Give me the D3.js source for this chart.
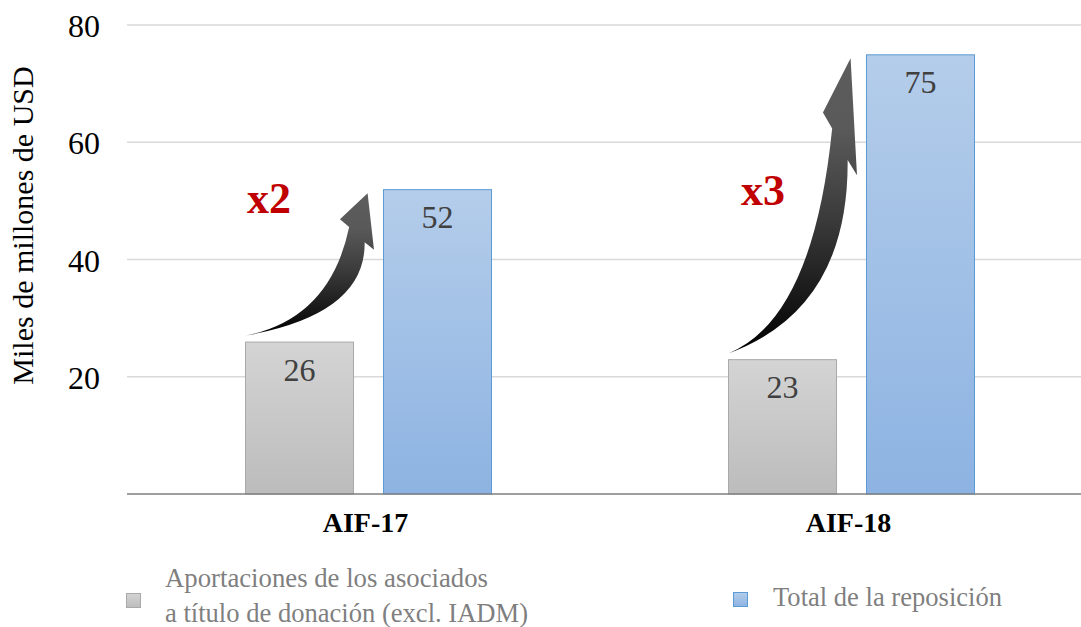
<!DOCTYPE html>
<html>
<head>
<meta charset="utf-8">
<script src="https://cdn.jsdelivr.net/npm/d3@7"></script>
<style>
  html, body { margin: 0; padding: 0; background: #fff; }
  svg { display: block; font-family: "Liberation Serif", "Times New Roman", serif; }
</style>
</head>
<body>
<svg id="chart" width="1081" height="627"></svg>
<script>
// ---- data ----
const categories = ["AIF-17", "AIF-18"];
const seriesNames = ["Aportaciones de los asociados a título de donación (excl. IADM)", "Total de la reposición"];
const donorContributions = [26, 23];
const totalReplenishment = [52, 75];
const multiplierLabels = ["x2", "x3"];
const yTicks = [20, 40, 60, 80];
const yTitle = "Miles de millones de USD";
const legendLines = [["Aportaciones de los asociados", "a título de donación (excl. IADM)"], ["Total de la reposición"]];

const svg = d3.select("#chart");
const W = 1081, H = 627;

const x0 = d3.scaleBand().domain(categories).range([127, 1093]).paddingInner(0).paddingOuter(0);
const x1 = d3.scaleBand().domain([0, 1]).range([118, 365]).paddingInner(0.21).paddingOuter(0);
const y = d3.scaleLinear().domain([0, 80]).range([494, 25]);

const defs = svg.append("defs");
function vGrad(id, top, bottom) {
  const g = defs.append("linearGradient").attr("id", id).attr("x1", 0).attr("y1", 0).attr("x2", 0).attr("y2", 1);
  g.append("stop").attr("offset", "0%").attr("stop-color", top);
  g.append("stop").attr("offset", "100%").attr("stop-color", bottom);
}
vGrad("gGray", "#d4d4d4", "#bcbcbc");
vGrad("gBlue", "#b4cdea", "#8db3e2");
const ag = defs.append("linearGradient").attr("id", "gArrow").attr("x1", 0).attr("y1", 1).attr("x2", 0).attr("y2", 0);
ag.append("stop").attr("offset", "0%").attr("stop-color", "#000");
ag.append("stop").attr("offset", "45%").attr("stop-color", "#3a3a3a");
ag.append("stop").attr("offset", "75%").attr("stop-color", "#595959");
ag.append("stop").attr("offset", "100%").attr("stop-color", "#5d5d5d");

// gridlines
svg.append("g").selectAll("line").data(yTicks).join("line")
  .attr("x1", 127).attr("x2", W)
  .attr("y1", d => y(d)).attr("y2", d => y(d))
  .attr("stroke", "#d9d9d9").attr("stroke-width", 1.5);

// y tick labels
svg.append("g").selectAll("text").data(yTicks).join("text")
  .attr("x", 100).attr("y", d => y(d) + 12)
  .attr("text-anchor", "end")
  .attr("font-size", 32).attr("fill", "#000")
  .text(d => d);

// y title
svg.append("text")
  .attr("transform", `translate(33, ${(y(0)+y(80))/2 - 34}) rotate(-90)`)
  .attr("text-anchor", "middle")
  .attr("font-size", 30).attr("fill", "#000")
  .text(yTitle);

// bars
const rows = categories.map((c, i) => ({ cat: c, vals: [donorContributions[i], totalReplenishment[i]], mult: multiplierLabels[i] }));
const grp = svg.append("g").selectAll("g").data(rows).join("g")
  .attr("transform", d => `translate(${x0(d.cat)},0)`);

grp.selectAll("rect").data(d => d.vals.map((v, j) => ({ v, j }))).join("rect")
  .attr("x", d => x1(d.j) + 0.5)
  .attr("y", d => y(d.v) + 0.5)
  .attr("width", x1.bandwidth() - 1)
  .attr("height", d => y(0) - y(d.v) - 0.5)
  .attr("fill", d => d.j === 0 ? "url(#gGray)" : "url(#gBlue)")
  .attr("stroke", d => d.j === 0 ? "#a9a9a9" : "#5b9bd5")
  .attr("stroke-width", 1);

grp.selectAll("text.val").data(d => d.vals.map((v, j) => ({ v, j }))).join("text")
  .attr("class", "val")
  .attr("x", d => x1(d.j) + x1.bandwidth() / 2)
  .attr("y", d => y(d.v) + 39)
  .attr("text-anchor", "middle")
  .attr("font-size", 32).attr("fill", "#404040")
  .text(d => d.v);

// baseline
svg.append("line").attr("x1", 127).attr("x2", W).attr("y1", y(0)).attr("y2", y(0))
  .attr("stroke", "#7f7f7f").attr("stroke-width", 1.5);

// category labels
svg.append("g").selectAll("text").data(categories).join("text")
  .attr("x", d => x0(d) + x0.bandwidth() / 2 - 3)
  .attr("y", 532)
  .attr("text-anchor", "middle")
  .attr("font-size", 28).attr("font-weight", "bold").attr("fill", "#000")
  .text(d => d);

// curved growth arrows (normalized shape mapped into a box from gray bar top to blue bar top)
const arrowPts = {
  tail: [0, 1], cUp: [0.657, 0.881], neckL: [0.806, 0.238], wingL: [0.734, 0.184],
  tip: [0.95, 0], wingR: [1.0, 0.397], neckR: [0.927, 0.345], cLow: [0.936, 0.85]
};
rows.forEach(r => {
  const gx = x0(r.cat) + x1(0), bx = x0(r.cat) + x1(1);
  const left = gx + 1, right = bx - 9;
  const bottom = y(r.vals[0]) - 6, top = y(r.vals[1]) + 4;
  const P = k => [left + arrowPts[k][0] * (right - left), top + arrowPts[k][1] * (bottom - top)];
  const p = d3.path();
  p.moveTo(...P("tail"));
  p.quadraticCurveTo(...P("cUp"), ...P("neckL"));
  p.lineTo(...P("wingL"));
  p.lineTo(...P("tip"));
  p.lineTo(...P("wingR"));
  p.lineTo(...P("neckR"));
  p.quadraticCurveTo(...P("cLow"), ...P("tail"));
  p.closePath();
  svg.append("path").attr("d", p.toString()).attr("fill", "url(#gArrow)");
});

// multiplier labels
svg.append("g").selectAll("text").data(rows).join("text")
  .attr("x", (d, i) => x0(d.cat) + x1(0) + (i === 0 ? 2 : 13))
  .attr("y", (d, i) => i === 0 ? y(47.9) : y(49.3))
  .attr("font-size", 44).attr("font-weight", "bold").attr("fill", "#c00000")
  .text(d => d.mult);

// legend
const leg = svg.append("g");
leg.append("rect").attr("x", 126.5).attr("y", 593.5).attr("width", 14).attr("height", 14)
  .attr("fill", "url(#gGray)").attr("stroke", "#a9a9a9");
leg.append("rect").attr("x", 733.5).attr("y", 592.5).attr("width", 14).attr("height", 14)
  .attr("fill", "url(#gBlue)").attr("stroke", "#5b9bd5");
leg.append("text").attr("x", 165).attr("y", 587).attr("font-size", 28).attr("fill", "#7f7f7f")
  .attr("textLength", 323).attr("lengthAdjust", "spacingAndGlyphs").text(legendLines[0][0]);
leg.append("text").attr("x", 165).attr("y", 622).attr("font-size", 28).attr("fill", "#7f7f7f")
  .attr("textLength", 363).attr("lengthAdjust", "spacingAndGlyphs").text(legendLines[0][1]);
leg.append("text").attr("x", 773).attr("y", 606).attr("font-size", 28).attr("fill", "#7f7f7f")
  .attr("textLength", 229).attr("lengthAdjust", "spacingAndGlyphs").text(legendLines[1][0]);
</script>
</body>
</html>
